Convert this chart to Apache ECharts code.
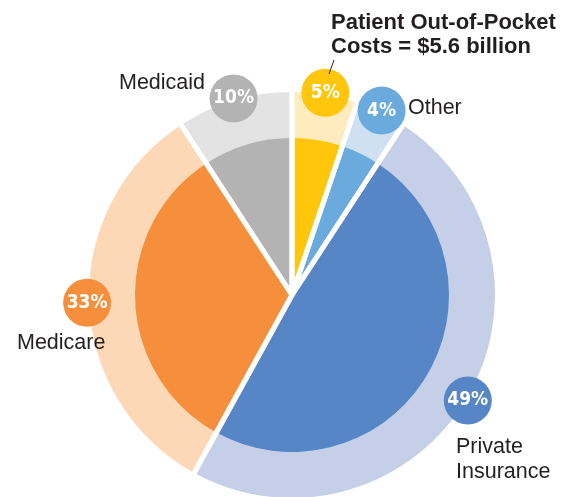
<!DOCTYPE html>
<html>
<head>
<meta charset="utf-8">
<script src="https://cdn.jsdelivr.net/npm/echarts@6/dist/echarts.min.js"></script>
<style>
    html, body { margin: 0; padding: 0; background: #fff; }
    #chart { width: 581px; height: 497px; }
</style>
</head>
<body>
<div id="chart"></div>
<script>
    // payers, clockwise from 12 o'clock
    const categories = ['Patient Out-of-Pocket', 'Other', 'Private Insurance', 'Medicare', 'Medicaid'];
    // slice sizes as drawn (the printed percentages are rounded)
    const shares = [5.2, 4.0, 48.8, 32.8, 9.2];
    const pctLabels = ['5%', '4%', '49%', '33%', '10%'];

    const darkColors = ['#FFC60B', '#6AAADD', '#5686C6', '#F68F3C', '#B3B3B3'];
    const lightColors = ['#FEEBBE', '#CFE0F2', '#C5D0E8', '#FDD8B6', '#E3E3E3'];

    const center = [292, 295];
    const textColor = '#231F20';
    const labelFont = '"Liberation Sans", Arial, sans-serif';

    let myChart = echarts.init(document.getElementById('chart'));

    function pieData(colors) {
        return categories.map(function (name, i) {
            return { name: name, value: shares[i], itemStyle: { color: colors[i] } };
        });
    }

    let option = {
        animation: false,
        series: [
            {
                // light outer ring
                type: 'pie',
                silent: true,
                center: center,
                radius: [0, 203],
                startAngle: 90,
                label: { show: false },
                labelLine: { show: false },
                data: pieData(lightColors)
            },
            {
                // inner slices
                type: 'pie',
                silent: true,
                center: center,
                radius: [0, 157],
                startAngle: 90,
                label: { show: false },
                labelLine: { show: false },
                data: pieData(darkColors)
            },
            {
                // white separators over both
                type: 'pie',
                silent: true,
                center: center,
                radius: [0, 206],
                startAngle: 90,
                label: { show: false },
                labelLine: { show: false },
                itemStyle: { color: 'rgba(0,0,0,0)', borderColor: '#fff', borderWidth: 5 },
                data: categories.map(function (name, i) {
                    return { name: name, value: shares[i] };
                })
            },
            {
                // percentage badges
                type: 'pie',
                silent: true,
                center: center,
                radius: [197, 207],
                startAngle: 90,
                itemStyle: { color: 'rgba(0,0,0,0)' },
                labelLine: { show: false },
                label: {
                    show: true,
                    position: 'inside',
                    color: '#fff',
                    fontFamily: '"Liberation Sans Narrow", "DejaVu Sans Condensed", sans-serif',
                    fontWeight: 'bold',
                    fontSize: 19,
                    width: 48,
                    height: 48,
                    lineHeight: 48,
                    align: 'center',
                    borderRadius: 24
                },
                data: categories.map(function (name, i) {
                    return {
                        name: name,
                        value: shares[i],
                        label: { formatter: pctLabels[i], backgroundColor: darkColors[i] }
                    };
                })
            }
        ],
        graphic: [
            {
                type: 'text', left: 331, top: 11, z: 100,
                style: {
                    text: 'Patient Out-of-Pocket\nCosts = $5.6 billion',
                    font: 'bold 22px ' + labelFont, lineHeight: 24, fill: textColor
                }
            },
            {
                type: 'line', z: 100,
                shape: { x1: 334, y1: 60, x2: 329, y2: 74 },
                style: { stroke: textColor, lineWidth: 1 }
            },
            {
                type: 'text', left: 119, top: 72, z: 100,
                style: { text: 'Medicaid', font: '21.5px ' + labelFont, fill: textColor }
            },
            {
                type: 'text', left: 408, top: 97, z: 100,
                style: { text: 'Other', font: '21.5px ' + labelFont, fill: textColor }
            },
            {
                type: 'text', left: 17, top: 332, z: 100,
                style: { text: 'Medicare', font: '21.5px ' + labelFont, fill: textColor }
            },
            {
                type: 'text', left: 456, top: 435, z: 100,
                style: {
                    text: 'Private\nInsurance',
                    font: '21.5px ' + labelFont, lineHeight: 25, fill: textColor
                }
            }
        ]
    };
    myChart.setOption(option);
</script>
</body>
</html>
